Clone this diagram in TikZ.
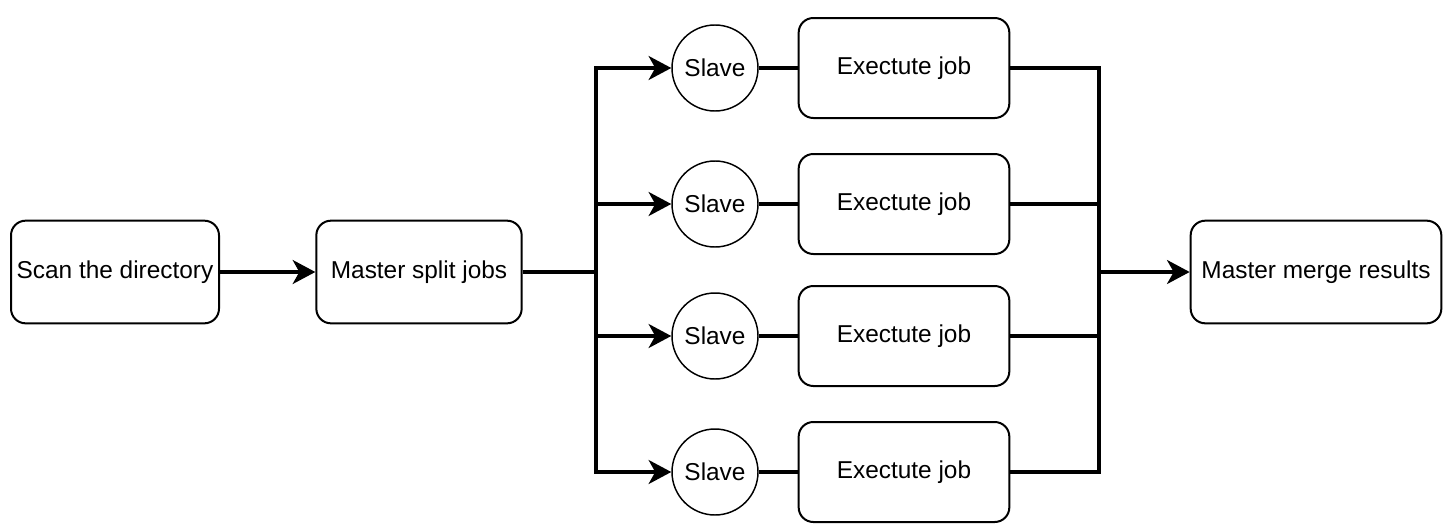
\documentclass[tikz,border=0pt]{standalone}
\usepackage{fontspec}
\setmainfont{Liberation Sans}
\usetikzlibrary{arrows.meta,positioning}

\begin{document}
\begin{tikzpicture}[x=0.75pt,y=-0.75pt,font=\fontsize{18.3}{22}\selectfont,
  box/.style={draw,line width=1.5pt,fill=white,rounded corners=11pt,align=center,
              minimum height=77pt,inner sep=2pt},
  worker/.style={draw,line width=1.1pt,circle,minimum size=64.5pt,inner sep=0pt},
  wire/.style={line width=2.4pt,line join=miter},
  arr/.style={wire,-{Stealth[length=17pt,width=18pt,inset=5pt]}}]
\useasboundingbox (0,0) rectangle (1454,532);

\node[box,minimum width=156pt] (scan)  at (115,272)  {Scan the directory};
\node[box,minimum width=154pt] (split) at (419,272)  {Master split jobs};
\node[box,minimum width=188pt] (merge) at (1316,272) {Master merge results};

\node[worker] (s1) at (715,68)  {Slave};
\node[worker] (s2) at (715,204) {Slave};
\node[worker] (s3) at (715,336) {Slave};
\node[worker] (s4) at (715,472) {Slave};

\node[box,minimum width=158pt,minimum height=75pt] (j1) at (904,68)  {Exectute job};
\node[box,minimum width=158pt,minimum height=75pt] (j2) at (904,204) {Exectute job};
\node[box,minimum width=158pt,minimum height=75pt] (j3) at (904,336) {Exectute job};
\node[box,minimum width=158pt,minimum height=75pt] (j4) at (904,472) {Exectute job};

\coordinate (fork) at (596,272);
\coordinate (join) at (1099,272);

\draw[arr] (scan.east) -- (split.west);
\draw[wire] (split.east) -- (fork);
\draw[arr] (fork) |- (s1.west); \draw[arr] (fork) |- (s2.west);
\draw[arr] (fork) |- (s3.west); \draw[arr] (fork) |- (s4.west);
\draw[wire] (s1.east) -- (j1.west); \draw[wire] (s2.east) -- (j2.west);
\draw[wire] (s3.east) -- (j3.west); \draw[wire] (s4.east) -- (j4.west);
\draw[wire] (j1.east) -| (join); \draw[wire] (j2.east) -| (join);
\draw[wire] (j3.east) -| (join); \draw[wire] (j4.east) -| (join);
\draw[arr] (join) -- (merge.west);
\end{tikzpicture}
\end{document}
